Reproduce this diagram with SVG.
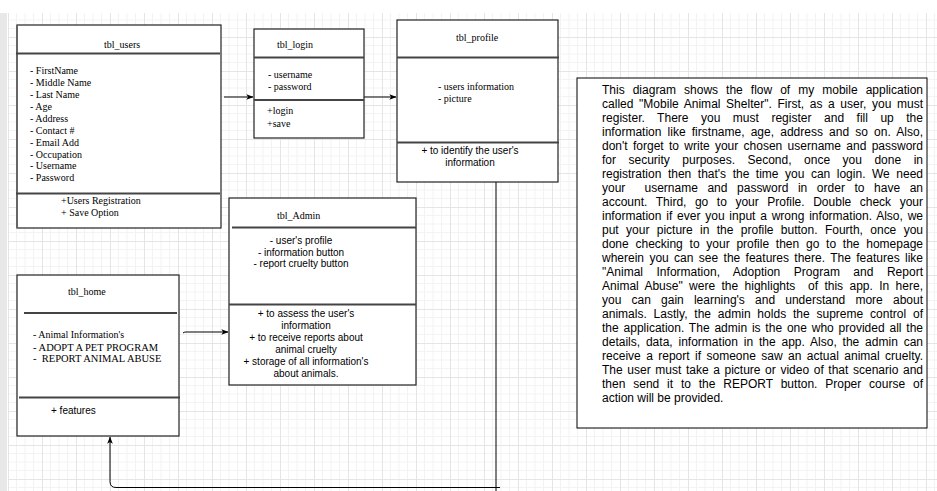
<svg xmlns="http://www.w3.org/2000/svg" width="937" height="491" viewBox="0 0 937 491">
<defs>
<pattern id="grid" width="34" height="34" patternUnits="userSpaceOnUse" x="8" y="3">
<rect width="34" height="34" fill="#fff"/>
<path d="M8.5 0V34M17 0V34M25.5 0V34M0 8.5H34M0 17H34M0 25.5H34" stroke="#f3f3f3" stroke-width="1" fill="none"/>
<path d="M0.5 0V34M0 0.5H34" stroke="#e5e5e5" stroke-width="1" fill="none"/>
</pattern>
<marker id="ah" viewBox="0 0 10 10" refX="9.5" refY="5" markerWidth="7" markerHeight="7" markerUnits="userSpaceOnUse" orient="auto">
<path d="M0 1L10 5L0 9L2.5 5z" fill="#000"/>
</marker>
<style>
.ser{font-family:"Liberation Serif","Times New Roman",serif;font-size:10px;fill:#000}
.san{font-family:"Liberation Sans",Arial,sans-serif;font-size:10px;fill:#000}
.mid{text-anchor:middle}
.pre{white-space:pre}
.desc{font-family:"Liberation Sans",Arial,sans-serif;font-size:12px;fill:#000}
.box{fill:#fff;stroke:#222;stroke-width:1.2}
.sep{stroke:#444;stroke-width:2;fill:none}
.conn{fill:none;stroke:#000;stroke-width:1}
</style>
</defs>
<rect x="0" y="0" width="937" height="491" fill="#fff"/>
<rect x="8" y="13" width="929" height="478" fill="url(#grid)"/>
<rect x="0" y="13" width="7" height="478" fill="#e8e8e8"/>

<g id="connectors">
<path class="conn" d="M224 97H253" marker-end="url(#ah)"/>
<path class="conn" d="M364 97H396" marker-end="url(#ah)"/>
<path class="conn" d="M183 333Q184 332 186 332H228" marker-end="url(#ah)"/>
<path class="conn" d="M496 182V491" stroke-width="2"/>
<path class="conn" d="M500 487.5H116Q110 487.5 110 481.5V437" stroke-width="1.4" marker-end="url(#ah)"/>
</g>

<g id="tbl_users">
<rect class="box" x="17" y="25" width="204" height="203"/>
<line x1="17" y1="25" x2="17" y2="228" stroke="#666" stroke-width="2"/>
<line class="sep" x1="16" y1="53.5" x2="220" y2="53.5"/>
<line class="sep" x1="16" y1="193.5" x2="220" y2="193.5"/>
<text class="ser" x="104" y="48">tbl_users</text>
<text class="ser" x="30" y="74">- FirstName</text>
<text class="ser" x="30" y="86">- Middle Name</text>
<text class="ser" x="30" y="98">- Last Name</text>
<text class="ser" x="30" y="110">- Age</text>
<text class="ser" x="30" y="121.5">- Address</text>
<text class="ser" x="30" y="133.5">- Contact #</text>
<text class="ser" x="30" y="145.5">- Email Add</text>
<text class="ser" x="30" y="157.5">- Occupation</text>
<text class="ser" x="30" y="169">- Username</text>
<text class="ser" x="30" y="181">- Password</text>
<text class="ser" x="61" y="204">+Users Registration</text>
<text class="ser" x="61" y="216">+ Save Option</text>
</g>

<g id="tbl_login">
<rect class="box" x="254" y="29" width="110" height="109"/>
<line class="sep" x1="254" y1="57.5" x2="364" y2="57.5"/>
<line class="sep" x1="254" y1="100" x2="364" y2="100"/>
<text class="ser" x="277" y="48">tbl_login</text>
<text class="ser" x="268" y="78">- username</text>
<text class="ser" x="268" y="90">- password</text>
<text class="ser" x="267" y="114">+login</text>
<text class="ser" x="267" y="126.5">+save</text>
</g>

<g id="tbl_profile">
<rect class="box" x="397" y="20" width="161" height="162"/>
<line class="sep" x1="397" y1="57.5" x2="559" y2="57.5"/>
<line class="sep" x1="397" y1="142.5" x2="559" y2="142.5"/>
<text class="ser" x="456" y="40.5">tbl_profile</text>
<text class="ser" x="438" y="90">- users information</text>
<text class="ser" x="438" y="102">- picture</text>
<text class="san mid" x="470" y="154">+ to identify the user's</text>
<text class="san mid" x="470" y="166">information</text>
</g>

<g id="tbl_Admin">
<rect class="box" x="229" y="198" width="187" height="187"/>
<line class="sep" x1="232" y1="227.5" x2="416" y2="227.5"/>
<line class="sep" x1="229" y1="304.5" x2="416" y2="304.5"/>
<text class="ser" x="277" y="218.5">tbl_Admin</text>
<text class="san mid" x="301" y="244">- user's profile</text>
<text class="san mid" x="301" y="255.5">- information button</text>
<text class="san mid" x="301" y="267">- report cruelty button</text>
<text class="san mid" x="306" y="316.5">+ to assess the user's</text>
<text class="san mid" x="306" y="328.5">information</text>
<text class="san mid" x="306" y="340.5">+ to receive reports about</text>
<text class="san mid" x="306" y="352.5">animal cruelty</text>
<text class="san mid" x="306" y="364.5">+ storage of all information's</text>
<text class="san mid" x="306" y="376.5">about animals.</text>
</g>

<g id="tbl_home">
<rect class="box" x="17" y="275" width="162" height="161"/>
<line class="sep" x1="24" y1="313" x2="177" y2="313"/>
<line class="sep" x1="19" y1="397.5" x2="180" y2="397.5"/>
<text class="ser" x="68" y="295">tbl_home</text>
<text class="ser" x="33" y="338">- Animal Information's</text>
<text class="ser" x="33" y="350.5" style="font-size:10.5px">- ADOPT A PET PROGRAM</text>
<text class="ser pre" x="33" y="362" style="font-size:10.5px">-  REPORT ANIMAL ABUSE</text>
<text class="san" x="51" y="414">+ features</text>
</g>

<g id="description">
<rect x="577" y="78" width="350" height="350" fill="#fff" stroke="#000" stroke-width="1"/>
<g class="desc">
<text x="602" y="93.5" word-spacing="4.70" textLength="321" lengthAdjust="spacing">This diagram shows the flow of my mobile application</text>
<text x="602" y="107.5" word-spacing="2.19" textLength="321" lengthAdjust="spacing">called "Mobile Animal Shelter". First, as a user, you must</text>
<text x="602" y="121.5" word-spacing="9.11" textLength="321" lengthAdjust="spacing">register. There you must register and fill up the</text>
<text x="602" y="135.5" word-spacing="2.78" textLength="321" lengthAdjust="spacing">information like firstname, age, address and so on. Also,</text>
<text x="602" y="149.5" word-spacing="1.98" textLength="321" lengthAdjust="spacing">don't forget to write your chosen username and password</text>
<text x="602" y="163.5" word-spacing="9.17" textLength="321" lengthAdjust="spacing">for security purposes. Second, once you done in</text>
<text x="602" y="177.5" word-spacing="3.17" textLength="321" lengthAdjust="spacing">registration then that's the time you can login. We need</text>
<text class="pre" x="602" y="191.5" word-spacing="6.24" textLength="321" lengthAdjust="spacing">your  username and password in order to have an</text>
<text x="602" y="205.5" word-spacing="5.20" textLength="321" lengthAdjust="spacing">account. Third, go to your Profile. Double check your</text>
<text x="602" y="219.5" word-spacing="1.43" textLength="321" lengthAdjust="spacing">information if ever you input a wrong information. Also, we</text>
<text x="602" y="233.5" word-spacing="4.02" textLength="321" lengthAdjust="spacing">put your picture in the profile button. Fourth, once you</text>
<text x="602" y="247.5" word-spacing="3.42" textLength="321" lengthAdjust="spacing">done checking to your profile then go to the homepage</text>
<text x="602" y="261.5" word-spacing="2.02" textLength="321" lengthAdjust="spacing">wherein you can see the features there. The features like</text>
<text x="602" y="275.5" word-spacing="10.12" textLength="321" lengthAdjust="spacing">"Animal Information, Adoption Program and Report</text>
<text class="pre" x="602" y="289.5" word-spacing="3.00" textLength="321" lengthAdjust="spacing">Animal Abuse" were the highlights  of this app. In here,</text>
<text x="602" y="303.5" word-spacing="6.84" textLength="321" lengthAdjust="spacing">you can gain learning's and understand more about</text>
<text x="602" y="317.5" word-spacing="3.44" textLength="321" lengthAdjust="spacing">animals. Lastly, the admin holds the supreme control of</text>
<text x="602" y="331.5" word-spacing="1.48" textLength="321" lengthAdjust="spacing">the application. The admin is the one who provided all the</text>
<text x="602" y="345.5" word-spacing="2.47" textLength="321" lengthAdjust="spacing">details, data, information in the app. Also, the admin can</text>
<text x="602" y="359.5" word-spacing="2.02" textLength="321" lengthAdjust="spacing">receive a report if someone saw an actual animal cruelty.</text>
<text x="602" y="373.5" word-spacing="1.29" textLength="321" lengthAdjust="spacing">The user must take a picture or video of that scenario and</text>
<text x="602" y="387.5" word-spacing="4.47" textLength="321" lengthAdjust="spacing">then send it to the REPORT button. Proper course of</text>
<text x="602" y="401.5">action will be provided.</text>
</g>
</g>
</svg>
